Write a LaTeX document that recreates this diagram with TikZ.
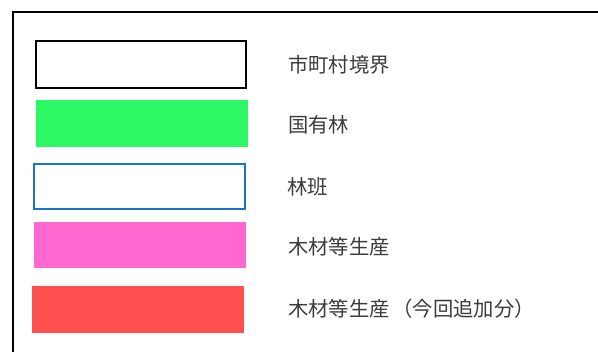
\documentclass[tikz,border=0pt]{standalone}
\usepackage{fontspec}
\newfontfamily\jpfont{Noto Sans CJK JP}
\definecolor{txtgray}{HTML}{3C3C3C}
\definecolor{kokuyu}{HTML}{2CF864}
\definecolor{rinpan}{HTML}{1874C8}
\definecolor{mokuzai}{HTML}{FF69CF}
\definecolor{tsuika}{HTML}{FF5050}
\begin{document}
\begin{tikzpicture}[x=1pt,y=-1pt,
  swatch/.style={inner sep=0pt, outer sep=0pt, minimum width=212pt, minimum height=47pt},
  legendtext/.style={anchor=west, inner sep=0pt, font=\jpfont\fontsize{20.3pt}{23pt}\selectfont, text=txtgray}]
\useasboundingbox[fill=white] (0,0) rectangle (598,352);
% frame
\coordinate (fbl) at (12.8,360);
\coordinate (ftl) at (12.8,12.3);
\coordinate (ftr) at (606,12.3);
\draw[line width=1.7pt, black] (fbl) -- (ftl) -- (ftr);
% swatches
\node[swatch, minimum width=210pt, minimum height=47pt] (s1) at (141,64.5) {};
\draw[line width=1.8pt, black] (s1.north west) rectangle (s1.south east);
\node[swatch, fill=kokuyu] (s2) at (142,123.5) {};
\node[swatch, minimum width=211pt, minimum height=45pt] (s3) at (139.5,186.5) {};
\draw[line width=1.8pt, rinpan] (s3.north west) rectangle (s3.south east);
\node[swatch, fill=mokuzai, minimum height=46pt] (s4) at (140,245) {};
\node[swatch, fill=tsuika] (s5) at (138,309.5) {};
% labels
\node[legendtext] (t1) at (288,65) {市町村境界};
\node[legendtext] (t2) at (288,125) {国有林};
\node[legendtext] (t3) at (287,187) {林班};
\node[legendtext] (t4) at (288,247) {木材等生産};
\node[legendtext] (t5) at (288,309) {木材等生産\hspace{3pt}（今回追加分）};
\end{tikzpicture}
\end{document}
